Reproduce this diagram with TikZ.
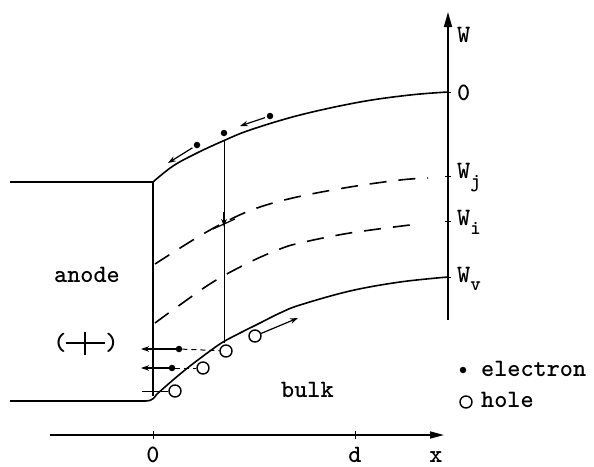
\documentclass[tikz,border=0pt]{standalone}
\usepackage{fontspec}
\usetikzlibrary{arrows.meta}
\tikzset{
  lbl/.style={font=\ttfamily\bfseries\fontsize{25}{27}\selectfont, inner sep=0pt},
  band/.style={line width=1.6pt},
  lvl/.style={line width=1.6pt, dash pattern=on 17pt off 12pt},
  elec/.style={circle, fill=black, inner sep=0pt, minimum size=6.5pt},
  holec/.style={circle, draw=black, line width=1.4pt, inner sep=0pt, minimum size=12pt},
  mv/.style={line width=1.2pt, -{Stealth[length=8pt,width=5.5pt]}},
  pair/.style={line width=1pt, dash pattern=on 5pt off 4pt},
  axisline/.style={line width=1.6pt},
  tickline/.style={line width=1pt},
}
\begin{document}
\begin{tikzpicture}[x=1pt,y=-1pt]
\useasboundingbox (0,0) rectangle (594,466);

% anode
\coordinate (atl) at (10,182);
\coordinate (atr) at (153,182);
\coordinate (abr) at (153,396);
\coordinate (abl) at (10,401);
\coordinate (vstart) at (157,394);
\draw[band] (atl) -- (atr) -- (abr);
\draw[band] (abl) -- (146,401) .. controls (152,401) and (154,398) .. (vstart);

% conduction band edge
\draw[band] plot[smooth, tension=0.6] coordinates {(153,182) (173,166) (197,153) (223,141) (250,130) (300,115) (360,102) (410,95) (448,92)};
% valence band edge
\draw[band] plot[smooth, tension=0.6] coordinates {(157,394) (173,380) (190,366) (210,351) (223,342) (240,333) (260,323) (280,313) (300,305) (350,291) (400,282) (448,277)};
% dashed levels
\draw[lvl] plot[smooth, tension=0.6] coordinates {(155,264) (193,240) (225,222) (257,208) (297,197) (350,187) (400,180) (428,178)};
\draw[lvl] plot[smooth, tension=0.6] coordinates {(155,323) (177,307) (213,282) (250,262) (280,249) (300,243) (350,233) (418,224)};

% W axis
\coordinate (wbot) at (448,320);
\coordinate (wtop) at (448,12);
\draw[axisline, -{Triangle[length=15pt,width=8pt]}] (wbot) -- (wtop);
\foreach \yy in {92,176,221,277} \draw[tickline] (445,\yy) -- (451,\yy);
\node[lbl, anchor=base west] (lW) at (457,42) {W};
\node[lbl, anchor=base west] (l0) at (457,100) {0};
\node[lbl, anchor=base west] (lWj) at (457,178) {W\raisebox{-9pt}{\fontsize{20}{20}\selectfont j}};
\node[lbl, anchor=base west] (lWi) at (457,225) {W\raisebox{-9pt}{\fontsize{20}{20}\selectfont i}};
\node[lbl, anchor=base west] (lWv) at (457,282) {W\raisebox{-8pt}{\fontsize{20}{20}\selectfont v}};

% x axis
\coordinate (xl) at (50,435);
\coordinate (xr) at (444,435);
\draw[axisline, -{Triangle[length=14pt,width=7pt]}] (xl) -- (xr);
\draw[tickline] (153,431) -- (153,439);
\draw[tickline] (355,431) -- (355,439);
\node[lbl, anchor=base] (x0) at (153,462) {0};
\node[lbl, anchor=base] (xd) at (355,462) {d};
\node[lbl, anchor=base] (xx) at (436,462) {x};

% labels
\node[lbl, anchor=base west] (anode) at (54,282) {anode};
\node[lbl, anchor=base west] (bulk) at (281,397) {bulk};
\node[lbl] (lp) at (60,343) {(};
\node[lbl] (rp) at (112,343) {)};
\coordinate (ch1) at (66,343); \coordinate (ch2) at (105,343);
\coordinate (cv1) at (85,332); \coordinate (cv2) at (85,355);
\draw[line width=1.5pt] (ch1) -- (ch2);
\draw[line width=1.5pt] (cv1) -- (cv2);

% electrons on conduction band
\node[elec] (c1) at (197,145) {};
\coordinate (c1t) at (168,163);
\draw[mv, shorten <=2pt] (c1) -- (c1t);
\node[elec] (c2) at (224,133) {};
\node[elec] (c3) at (270,116) {};
\coordinate (c3t) at (240,126);
\draw[mv, shorten <=2pt] (c3) -- (c3t);

% vertical transition line
\coordinate (vt) at (224,140);
\coordinate (vb) at (224,343);
\draw[line width=1pt] (vt) -- (vb);
\coordinate (ma) at (224,212);
\coordinate (mb) at (224,227);
\draw[mv] (ma) -- (mb);
\coordinate (s1) at (213,229); \coordinate (s2) at (235,219);
\draw[line width=1.2pt] (s1) -- (s2);

% electron-hole pairs near anode
\node[holec] (h1) at (226,351) {};
\node[elec] (e1) at (179,349) {};
\coordinate (a1) at (141,349);
\draw[mv] (e1) -- (a1);
\draw[pair] (e1) -- (h1);

\node[holec] (h2) at (203,368) {};
\node[elec] (e2) at (172,368) {};
\coordinate (a2) at (141,368);
\draw[mv] (e2) -- (a2);
\draw[pair] (e2) -- (h2);

\node[holec] (h3) at (175,391) {};
\coordinate (a3) at (142,391);
\draw[line width=1pt] (h3) -- (a3);

\node[holec] (h4) at (255,336) {};
\coordinate (h4t) at (298,318);
\draw[mv] (h4) -- (h4t);

% legend
\node[elec] (le) at (463,370) {};
\node[lbl, anchor=base west] (lte) at (481,376) {electron};
\node[holec] (lh) at (466,402) {};
\node[lbl, anchor=base west] (lth) at (481,407) {hole};
\end{tikzpicture}
\end{document}
